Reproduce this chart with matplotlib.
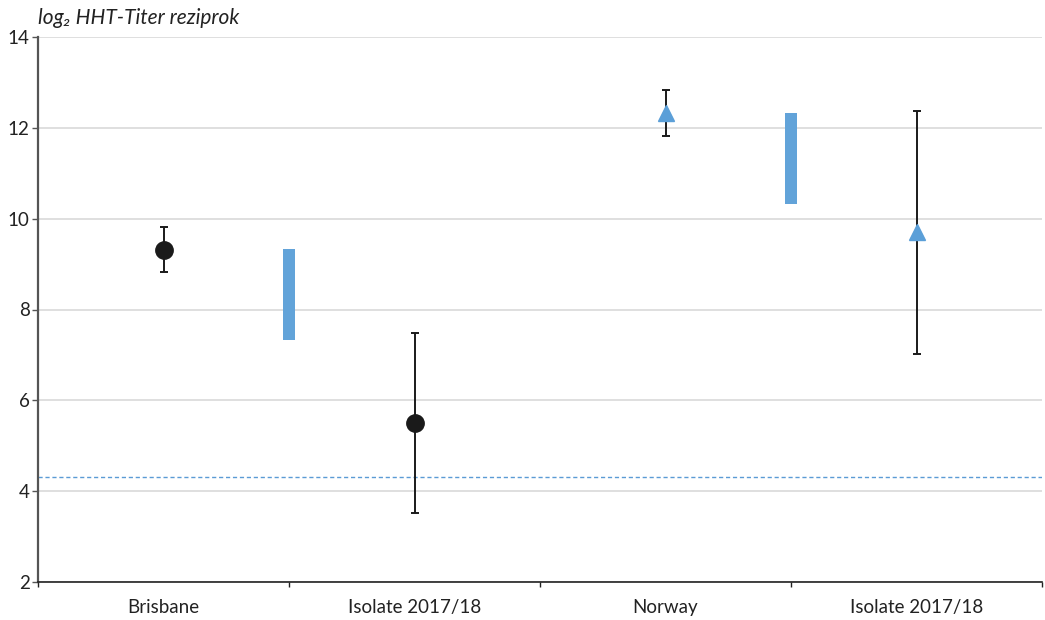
import matplotlib
matplotlib.use("Agg")
import matplotlib.pyplot as plt

categories = ["Brisbane", "Isolate 2017/18", "Norway", "Isolate 2017/18"]
point_values = [9.32, 5.50, 12.33, 9.70]
point_errors = [0.49, 1.99, 0.50, 2.67]
point_markers = ["o", "o", "^", "^"]
point_colors = ["#1a1a1a", "#1a1a1a", "#5b9fd8", "#5b9fd8"]
range_bottoms = [7.33, 10.33]
range_heights = [2.0, 2.0]
threshold = 4.32
y_ticks = [2, 4, 6, 8, 10, 12, 14]

plt.rcParams['font.family'] = ['Lato', 'DejaVu Sans']

fig = plt.figure(figsize=(10.45, 6.2), dpi=100)
ax = fig.add_axes([38/1045, 1 - 582/620, (1042-38)/1045, (582-37)/620])

ax.set_xlim(0, 4)
ax.set_ylim(2, 14)
ax.set_yticks(y_ticks)
ax.grid(axis='y', color='#d9d9d9', linewidth=1.2, zorder=0)
ax.set_axisbelow(True)

# threshold line
ax.axhline(threshold, color='#5b9bd5', linestyle=(0, (3, 2)), linewidth=1.0, zorder=1)

# range bars at boundaries
bar_x = [1, 3]
ax.bar(bar_x, range_heights, bottom=range_bottoms, width=0.046,
       color='#62a3d9', zorder=2)

centers = [0.5, 1.5, 2.5, 3.5]
for x, v, e, m, c in zip(centers, point_values, point_errors, point_markers, point_colors):
    ax.errorbar([x], [v], yerr=[e], fmt='none', ecolor='#1a1a1a',
                elinewidth=1.4, capsize=3.2, capthick=1.4, zorder=3)
    ms = 12.5 if m == 'o' else 12
    ax.plot([x], [v], marker=m, color=c, markersize=ms, linestyle='none', zorder=4)

# x ticks at boundaries, labels at centers
ax.set_xticks([0, 1, 2, 3, 4])
ax.set_xticklabels([])
ax.set_xticks(centers, minor=True)
ax.set_xticklabels(categories, minor=True, fontsize=13.5, color='#222222')
ax.tick_params(axis='x', which='minor', length=0, pad=12)
ax.tick_params(axis='x', which='major', length=3.5, width=1, color='#222222', direction='out')
ax.tick_params(axis='y', length=4, width=1, color='#555555', labelsize=13.5,
               labelcolor='#222222', pad=2)

for s in ['top', 'right']:
    ax.spines[s].set_visible(False)
ax.spines['left'].set_color('#555555')
ax.spines['left'].set_linewidth(1.6)
ax.spines['bottom'].set_color('#222222')
ax.spines['bottom'].set_linewidth(1.2)

fig.text(38/1045, 1 - 18/620, "log\u2082 HHT-Titer reziprok", fontsize=15,
         style='italic', color='#222222', ha='left', va='center')

fig.savefig("out.png", dpi=100)
